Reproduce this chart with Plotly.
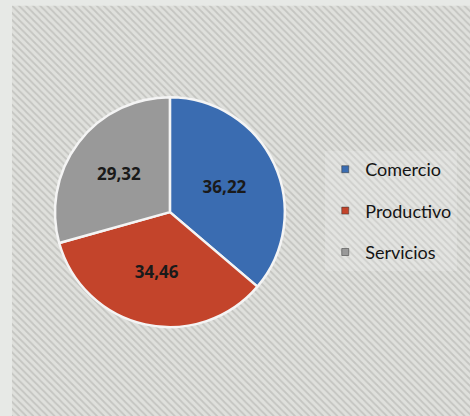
import plotly.graph_objects as go

categories = ["Comercio", "Productivo", "Servicios"]
values = [36.22, 34.46, 29.32]
value_labels = ["36,22", "34,46", "29,32"]
colors = ["#3a6cb1", "#c3442b", "#999999"]

fig = go.Figure()

# hatched background panel
fig.add_trace(go.Bar(
    x=[0], y=[1], width=[2],
    marker=dict(color="#dcdcd8", line=dict(width=0),
                pattern=dict(shape="\\", fgcolor="#aaaaa6", bgcolor="#dfe0dc", size=5, solidity=0.35)),
    showlegend=False, hoverinfo="skip",
))

fig.add_trace(go.Pie(
    labels=categories, values=values, text=value_labels,
    textinfo="text", textposition="inside", insidetextorientation="horizontal",
    textfont=dict(family="Open Sans", size=17, color="#1a1a1a", weight="bold"),
    marker=dict(colors=colors, line=dict(color="#f4f4f4", width=2.5)),
    sort=False, direction="clockwise", rotation=0,
    domain=dict(x=[0.117, 0.606], y=[0.202, 0.778]),
    showlegend=False,
))

# legend entries
for i, (c, col) in enumerate(zip(categories, colors)):
    fig.add_trace(go.Scatter(
        x=[None], y=[None], mode="markers", name=c, legendgroup=c,
        marker=dict(symbol="square", size=7, color=col, line=dict(width=0.5, color="#333")),
    ))

fig.update_layout(
    width=470, height=416,
    margin=dict(l=0, r=0, t=0, b=0, pad=0),
    paper_bgcolor="#e7e9e6",
    plot_bgcolor="rgba(0,0,0,0)",
    xaxis=dict(domain=[0.0255, 1], range=[-0.3, 0.3], visible=False, fixedrange=True),
    yaxis=dict(domain=[0, 0.986], range=[0, 0.5], visible=False, fixedrange=True),
    bargap=0,
    legend=dict(
        x=0.692, y=0.637, xanchor="left", yanchor="top",
        bgcolor="rgba(240,240,238,0.25)",
        font=dict(family="Lato", size=18, color="#141414"),
        tracegroupgap=15, itemsizing="trace", itemwidth=30,
        traceorder="grouped",
    ),
)

fig.write_html(
    "out.html",
    config={"displayModeBar": False},
    post_script="document.body.style.margin='0';document.body.style.overflow='hidden';",
)
